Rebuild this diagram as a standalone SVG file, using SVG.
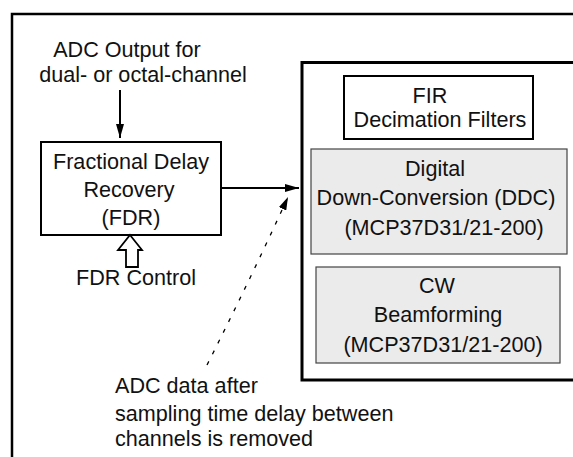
<svg xmlns="http://www.w3.org/2000/svg" width="573" height="457" viewBox="0 0 573 457">
<style>
text{font-family:"Liberation Sans",Arial,sans-serif;font-size:21.6px;fill:#111}
.c{text-anchor:middle}
.box{fill:#fff;stroke:#000;stroke-width:2}
.gbox{fill:#ebebeb;stroke:#444;stroke-width:1.2}
.ln{fill:none;stroke:#000;stroke-width:2}
</style>
<defs>
<marker id="ah" markerWidth="14" markerHeight="8" refX="14" refY="4" orient="auto" markerUnits="userSpaceOnUse">
<path d="M0,0L14,4L0,8Z" fill="#000"/>
</marker>
<marker id="ah2" markerWidth="13" markerHeight="8" refX="13" refY="4" orient="auto" markerUnits="userSpaceOnUse">
<path d="M0,0L13,4L0,8Z" fill="#000"/>
</marker>
</defs>
<rect width="573" height="457" fill="#fff"/>
<g id="frame"><path d="M12,457V14H580" fill="none" stroke="#000" stroke-width="2.5"/></g>
<g id="block"><rect x="302" y="62.5" width="290" height="317.5" fill="#fff" stroke="#000" stroke-width="3"/></g>
<g id="input-label">
<text class="c" x="127" y="57">ADC Output for</text>
<text class="c" x="143" y="82">dual- or octal-channel</text>
</g>
<g id="fdr">
<rect class="box" x="41" y="142" width="180" height="93"/>
<text class="c" x="131" y="169">Fractional Delay</text>
<text class="c" x="129" y="197">Recovery</text>
<text class="c" x="131" y="225">(FDR)</text>
</g>
<g id="fdr-control">
<path d="M130,235L142,250H138V267H126V250H118Z" fill="#fff" stroke="#000" stroke-width="1.8" stroke-linejoin="miter"/>
<text class="c" x="136" y="285">FDR Control</text>
</g>
<g id="fir">
<rect class="box" x="344" y="76" width="189" height="63"/>
<text class="c" x="430" y="103">FIR</text>
<text class="c" x="440" y="127">Decimation Filters</text>
</g>
<g id="ddc">
<rect class="gbox" x="311" y="149" width="256" height="105"/>
<text class="c" x="435" y="176">Digital</text>
<text class="c" x="436" y="205">Down-Conversion (DDC)</text>
<text class="c" x="444" y="235">(MCP37D31/21-200)</text>
</g>
<g id="cw">
<rect class="gbox" x="316" y="267" width="244" height="96"/>
<text class="c" x="437" y="293">CW</text>
<text class="c" x="438" y="322">Beamforming</text>
<text class="c" x="443" y="352">(MCP37D31/21-200)</text>
</g>
<g id="note">
<text x="115" y="393">ADC data after</text>
<text x="115" y="421">sampling time delay between</text>
<text x="115" y="446">channels is removed</text>
</g>
<g id="connectors">
<path class="ln" d="M120,90V138" marker-end="url(#ah)"/>
<path class="ln" d="M221,188H299" marker-end="url(#ah)"/>
<path d="M207,365Q250,280 288,197" fill="none" stroke="#000" stroke-width="1.3" stroke-dasharray="4,8" marker-end="url(#ah2)"/>
</g>
</svg>
